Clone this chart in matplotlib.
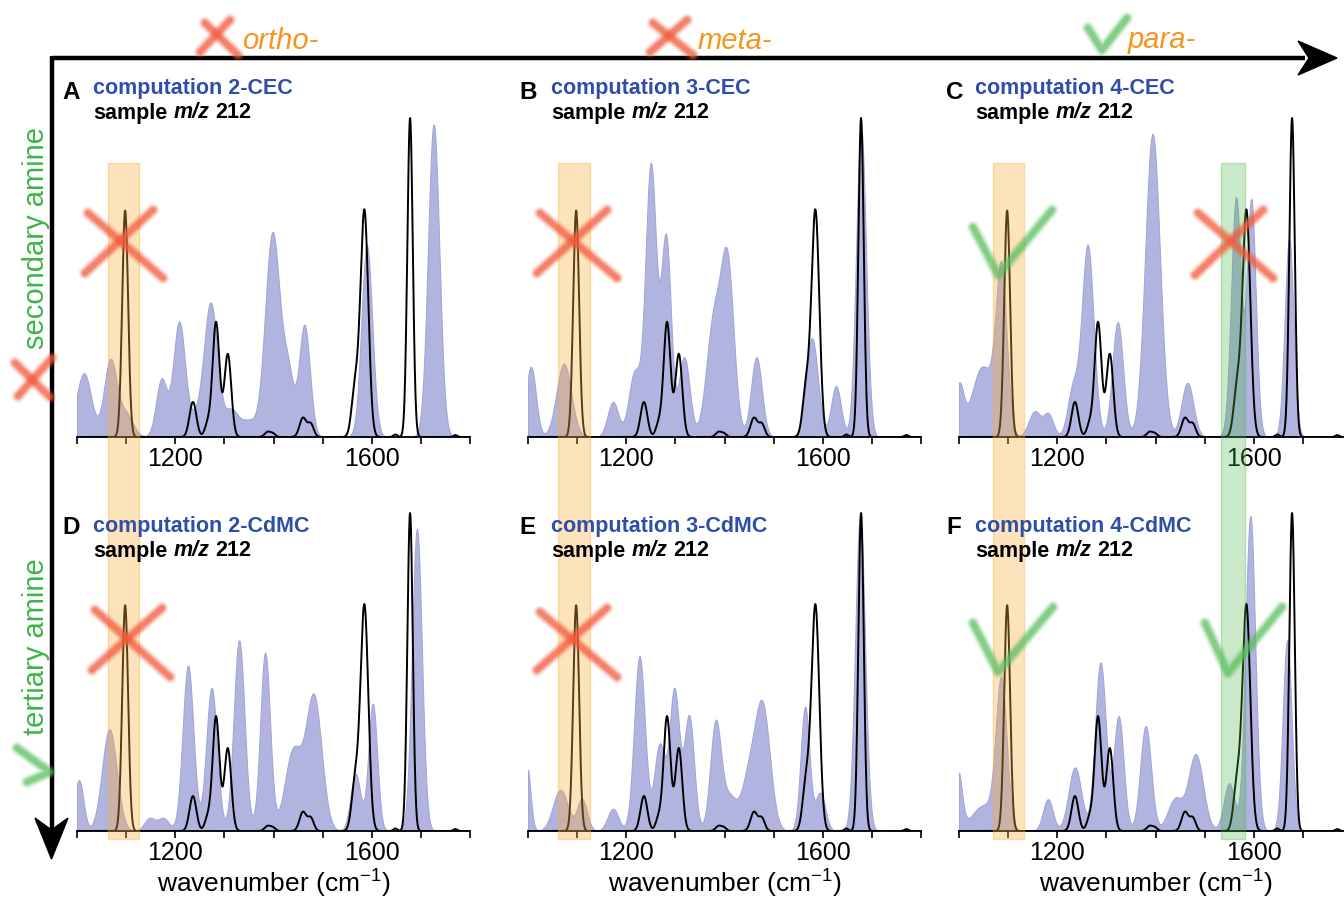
import numpy as np
import matplotlib
matplotlib.use('Agg')
import matplotlib.pyplot as plt
from matplotlib import transforms
from matplotlib.patches import Rectangle, Polygon
from matplotlib.offsetbox import TextArea, HPacker, AnnotationBbox

plt.rcParams['font.family'] = ['Liberation Sans', 'DejaVu Sans']
plt.rcParams['mathtext.fontset'] = 'custom'
plt.rcParams['mathtext.rm'] = 'Liberation Sans'

W, H = 1344, 897

wavenumber = np.linspace(1000, 1800, 1601)

# peaks: (centre cm-1, relative height, width sigma)
sample_212 = [(1098, 0.71, 6), (1236, 0.11, 7), (1266, 0.04, 6), (1283, 0.36, 7),
              (1307, 0.26, 7), (1388, 0.016, 6), (1399, 0.01, 5), (1460, 0.06, 7),
              (1476, 0.04, 6), (1566, 0.15, 7), (1585, 0.71, 8), (1648, 0.008, 4),
              (1678, 1.0, 5.5), (1770, 0.006, 4)]

comp_2CEC = [(1014, 0.2, 15), (1068, 0.24, 13), (1100, 0.07, 14), (1172, 0.18, 11),
             (1208, 0.36, 12), (1240, 0.05, 12), (1272, 0.42, 14), (1314, 0.08, 13),
             (1348, 0.05, 16), (1398, 0.64, 15), (1430, 0.18, 11), (1463, 0.35, 11),
             (1590, 0.6, 11), (1726, 0.98, 11.5)]
comp_3CEC = [(1006, 0.22, 10), (1073, 0.23, 15), (1173, 0.11, 11), (1217, 0.2, 12),
             (1250, 0.85, 11), (1281, 0.62, 10), (1318, 0.25, 11), (1378, 0.36, 15),
             (1406, 0.52, 13), (1465, 0.25, 11), (1578, 0.31, 12), (1627, 0.16, 10),
             (1678, 0.97, 10)]
comp_4CEC = [(1000, 0.15, 9), (1048, 0.22, 22), (1086, 0.5, 11), (1154, 0.08, 12),
             (1182, 0.07, 10), (1232, 0.15, 11), (1262, 0.6, 12), (1323, 0.36, 11),
             (1394, 0.95, 15), (1465, 0.17, 12), (1564, 0.75, 10), (1595, 0.74, 9),
             (1672, 0.62, 9)]
comp_2CdMC = [(1004, 0.16, 9), (1066, 0.32, 15), (1148, 0.04, 11), (1176, 0.04, 11),
              (1226, 0.52, 11), (1274, 0.45, 11), (1330, 0.6, 11), (1383, 0.56, 10),
              (1440, 0.25, 17), (1482, 0.42, 16), (1567, 0.18, 10), (1602, 0.4, 9),
              (1692, 0.95, 10)]
comp_3CdMC = [(998, 0.2, 7), (1066, 0.13, 15), (1110, 0.1, 10), (1173, 0.07, 11),
              (1227, 0.55, 11), (1268, 0.27, 11), (1298, 0.44, 10), (1328, 0.36, 10),
              (1382, 0.34, 11), (1410, 0.1, 13), (1450, 0.17, 16), (1478, 0.37, 15),
              (1564, 0.39, 9), (1595, 0.12, 10), (1676, 0.99, 10)]
comp_4CdMC = [(998, 0.18, 8), (1050, 0.08, 24), (1086, 0.46, 11), (1181, 0.1, 10),
              (1236, 0.2, 13), (1288, 0.53, 11), (1325, 0.36, 10), (1380, 0.33, 11),
              (1440, 0.1, 15), (1482, 0.24, 15), (1550, 0.15, 11), (1593, 0.99, 10),
              (1668, 0.6, 9)]

panel_letters = ['A', 'B', 'C', 'D', 'E', 'F']
panel_names = ['2-CEC', '3-CEC', '4-CEC', '2-CdMC', '3-CdMC', '4-CdMC']
panel_spectra = [comp_2CEC, comp_3CEC, comp_4CEC, comp_2CdMC, comp_3CdMC, comp_4CdMC]

orange_band = [(1063, 1127), (1061, 1126), (1069, 1133)]
green_band = (1534, 1583)

BLUE_FILL = '#b2b4e0'
TITLE_BLUE = '#2f4ea8'
ORANGE = '#f7941d'
GREEN = '#3cb54a'
RED_MARK = '#f25a3c'
GREEN_MARK = '#5cbf60'


def spectrum(peaks):
    y = np.zeros_like(wavenumber)
    for c, a, s in peaks:
        y += a * np.exp(-0.5 * ((wavenumber - c) / s) ** 2)
    return y


fig = plt.figure(figsize=(W / 100, H / 100), dpi=100)

col_left = [77, 528, 959]
col_width = 393
row_base = [437, 831]
row_unit = [319, 318]
ytop = 1.08

sample = spectrum(sample_212)
axes = []
for i, peaks in enumerate(panel_spectra):
    r, c = divmod(i, 3)
    ax = fig.add_axes([col_left[c] / W, (H - row_base[r]) / H,
                       col_width / W, ytop * row_unit[r] / H])
    ax.set_facecolor('none')
    ax.fill_between(wavenumber, spectrum(peaks), 0, color=BLUE_FILL, lw=0.8,
                    edgecolor='#a3a6da', zorder=1)
    ax.plot(wavenumber, sample, color='black', lw=1.4, zorder=3)
    ax.set_xlim(1000, 1800)
    ax.set_ylim(0, ytop)
    for s in ['top', 'left', 'right']:
        ax.spines[s].set_visible(False)
    ax.spines['bottom'].set_linewidth(1.3)
    ax.set_yticks([])
    ticks = list(range(1000, 1801, 100))
    ax.set_xticks(ticks)
    ax.set_xticklabels([str(t) if t in (1200, 1600) else '' for t in ticks])
    ax.tick_params(axis='x', direction='out', length=5, width=1.2, pad=2, labelsize=18)
    if r == 1:
        ax.set_xlabel('wavenumber (cm$^{-1}$)', fontsize=19, labelpad=1)
    axes.append(ax)

# highlight bands spanning both rows (drawn from the lower axes, on top)
y0 = 1 - 839 / H
y1 = 1 - 163 / H
for c in range(3):
    ax = axes[3 + c]
    tr = transforms.blended_transform_factory(ax.transData, fig.transFigure)
    lo, hi = orange_band[c]
    ax.add_patch(Rectangle((lo, y0), hi - lo, y1 - y0, transform=tr, clip_on=False,
                           facecolor='#fbb040', alpha=0.35, edgecolor='#f7a823',
                           lw=1.0, zorder=5))
    if c == 2:
        lo, hi = green_band
        ax.add_patch(Rectangle((lo, y0), hi - lo, y1 - y0, transform=tr, clip_on=False,
                               facecolor='#4cb849', alpha=0.3, edgecolor='#3cab3a',
                               lw=1.0, zorder=5))

# overlay in pixel coordinates for arrows, labels and marks
ov = fig.add_axes([0, 0, 1, 1], zorder=10)
ov.set_xlim(0, W)
ov.set_ylim(H, 0)
ov.axis('off')
ov.set_facecolor('none')

# axes arrows
ov.plot([51.5, 1305], [58, 58], color='black', lw=3.2, solid_capstyle='butt')
ov.plot([51.5, 51.5], [56.5, 835], color='black', lw=3.2, solid_capstyle='butt')
ov.add_patch(Polygon([(1337, 58), (1298, 41), (1309, 58), (1298, 75)], closed=True,
                     facecolor='black', edgecolor='black'))
ov.add_patch(Polygon([(51.5, 859), (35, 818), (51.5, 830), (68, 818)], closed=True,
                     facecolor='black', edgecolor='black'))


def soft_stroke(xs, ys, color):
    for lw, a in [(9.5, 0.12), (7.5, 0.2), (5.5, 0.35), (3.5, 0.45)]:
        ov.plot(xs, ys, color=color, lw=lw, alpha=a, solid_capstyle='round',
                solid_joinstyle='round')


def cross(s1, s2):
    soft_stroke([s1[0][0], s1[1][0]], [s1[0][1], s1[1][1]], RED_MARK)
    soft_stroke([s2[0][0], s2[1][0]], [s2[0][1], s2[1][1]], RED_MARK)


def check(pts):
    soft_stroke([p[0] for p in pts], [p[1] for p in pts], GREEN_MARK)


# header marks
cross(((205, 23), (238, 55)), ((200, 52), (230, 20)))
cross(((653, 23), (693, 55)), ((650, 52), (687, 20)))
check([(1088, 28), (1102, 50), (1127, 18)])
cross(((15, 363), (50, 397)), ((18, 396), (52, 358)))
check([(17, 748), (50, 772), (27, 782)])

# panel marks
cross(((88, 213), (163, 278)), ((85, 273), (153, 210)))
cross(((540, 213), (617, 278)), ((537, 273), (607, 210)))
cross(((1198, 213), (1273, 278)), ((1195, 275), (1263, 210)))
check([(973, 227), (998, 275), (1052, 210)])
cross(((95, 610), (170, 677)), ((92, 670), (162, 608)))
cross(((540, 612), (617, 677)), ((537, 670), (607, 608)))
check([(973, 623), (998, 672), (1053, 607)])
check([(1205, 623), (1228, 673), (1282, 607)])

# header labels
ov.text(242, 49, 'ortho-', color=ORANGE, fontsize=21, fontstyle='italic', va='baseline')
ov.text(698, 49, 'meta-', color=ORANGE, fontsize=21, fontstyle='italic', va='baseline')
ov.text(1128, 48, 'para-', color=ORANGE, fontsize=21, fontstyle='italic', va='baseline')
ov.text(36, 238, 'secondary amine', color=GREEN, fontsize=21, rotation=90,
        ha='center', va='center')
ov.text(36, 647, 'tertiary amine', color=GREEN, fontsize=21, rotation=90,
        ha='center', va='center')

# panel titles
letter_x = [62, 519, 946]
text_x = [93, 551, 975]
line1_base = [94, 532]
line2_base = [119, 557]
letter_base = [99, 534]
for i in range(6):
    r, c = divmod(i, 3)
    ov.text(letter_x[c], letter_base[r], panel_letters[i], fontsize=17.5,
            fontweight='bold', color='black', va='baseline')
    ov.text(text_x[c], line1_base[r], 'computation ' + panel_names[i], fontsize=15.5,
            fontweight='bold', color=TITLE_BLUE, va='baseline')
    bold = dict(fontsize=15.5, fontweight='bold', color='black')
    boldit = dict(fontsize=15.5, fontweight='bold', fontstyle='italic', color='black')
    pack = HPacker(children=[TextArea('sample', textprops=bold),
                             TextArea('m/z', textprops=boldit),
                             TextArea('212', textprops=bold)],
                   align='baseline', pad=0, sep=4.3)
    ab = AnnotationBbox(pack, (text_x[c], line2_base[r] + 4.5), xycoords='data',
                        box_alignment=(0, 0), frameon=False, pad=0)
    ov.add_artist(ab)

fig.savefig('out.png', dpi=100)
